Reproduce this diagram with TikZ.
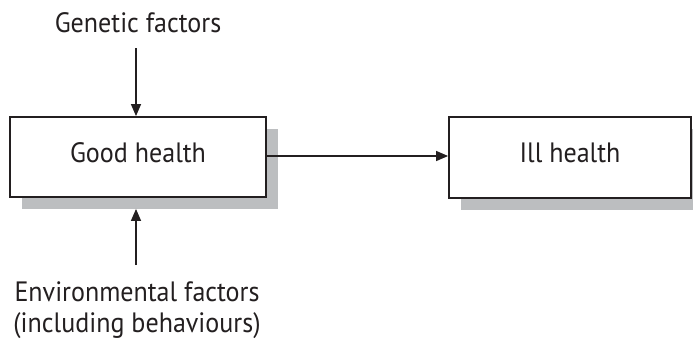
\documentclass[tikz,border=0pt]{standalone}
\usepackage{fontspec}
\setmainfont{PT Sans}[FakeStretch=0.93]
\usetikzlibrary{arrows.meta,shadows}
\definecolor{ink}{HTML}{231F20}
\definecolor{shade}{HTML}{BCBEC0}
\tikzset{
  box/.style={draw=ink, line width=1.8pt, fill=white, inner sep=0pt,
    text height=20pt, text depth=10pt,
    general shadow={fill=shade, shadow xshift=11.5pt, shadow yshift=-12pt}},
  lbl/.style={text=ink, inner sep=0pt, anchor=base},
  link/.style={draw=ink, line width=1.3pt, -{Triangle[length=12pt,width=10pt]}}
}
\begin{document}
\begin{tikzpicture}[x=1pt, y=-1pt, font=\fontsize{28}{31}\selectfont]
  \useasboundingbox (0,0) rectangle (693,359);
  % the two states
  \node[box, minimum width=256pt, minimum height=80pt, text=ink] (good) at (138,157) {Good health};
  \node[box, minimum width=242pt, minimum height=81pt, text=ink] (ill) at (570,157.5) {Ill health};
  % influencing factors
  \node[lbl] (gen) at (138,32) {Genetic factors};
  \node[lbl, align=center] (env) at (137,332) {Environmental factors\\(including behaviours)};
  \coordinate (gentail) at (136,48);
  \coordinate (envtail) at (136,265);
  % connectors
  \draw[link] (gentail) -- (good.north -| gentail);
  \draw[link, shorten >=11pt] (envtail) -- (good.south -| envtail);
  \draw[link] ([yshift=1pt]good.east) -- ([yshift=1pt]good.east -| ill.west);
\end{tikzpicture}
\end{document}
